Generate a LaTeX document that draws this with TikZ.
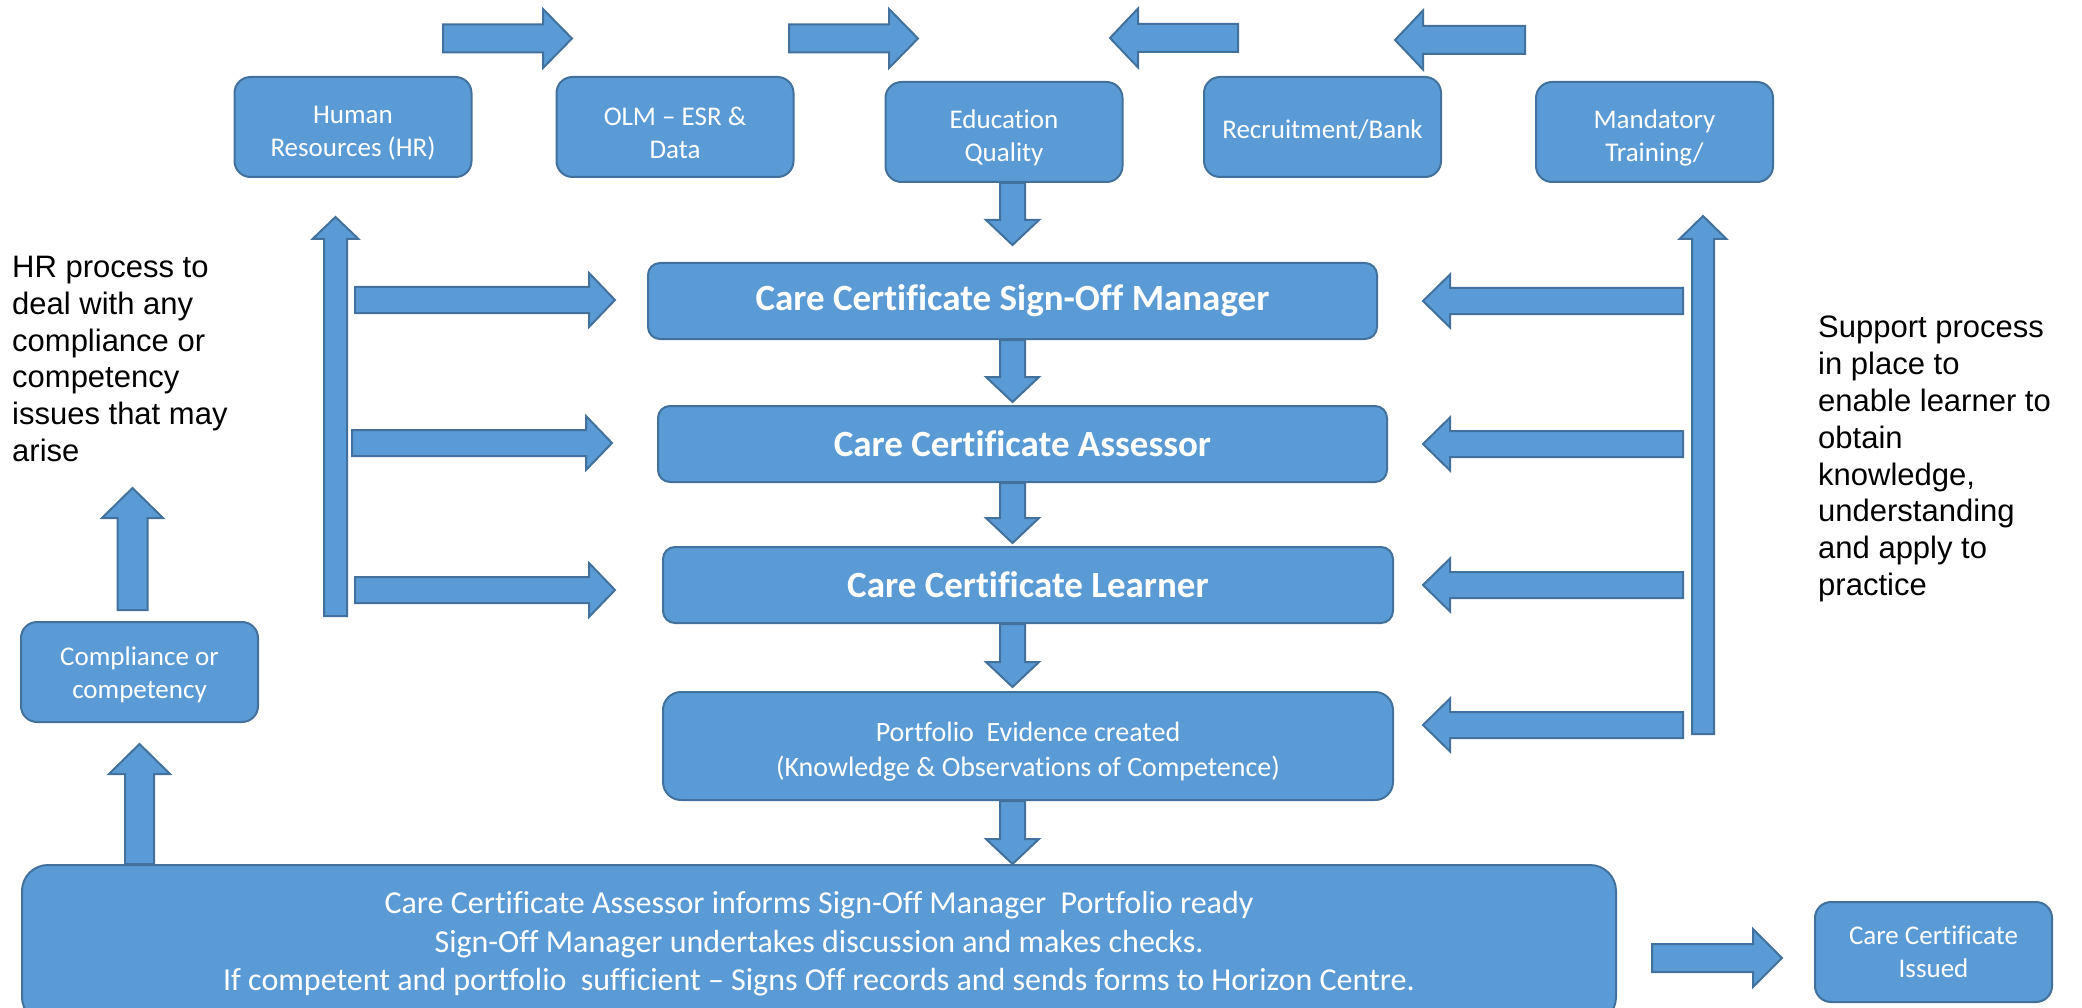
\documentclass[tikz,border=0pt]{standalone}
\usepackage{fontspec}
\setmainfont{Carlito}[Ligatures={TeX,NoCommon}]
\newfontfamily\arialfont{Liberation Sans}
\usetikzlibrary{calc}

\definecolor{boxblue}{HTML}{5B9BD5}
\definecolor{edgeblue}{HTML}{41719C}

\newcommand{\lift}[1][30pt]{\rule{0pt}{#1}}

\tikzset{
  base/.style={draw=edgeblue, fill=boxblue, line width=2pt, text=white, align=center, inner sep=0pt},
  box/.style={base, rounded corners=16pt, minimum width=237pt, minimum height=100pt, font=\fontsize{27}{33}\selectfont},
  bigbox/.style={base, rounded corners=12pt, minimum width=729pt, minimum height=76pt, font=\fontsize{37}{44}\selectfont\bfseries},
  note/.style={anchor=north west, inner sep=0pt, align=left, font=\arialfont\fontsize{31}{36.8}\selectfont},
  blk/.style n args={3}{draw=edgeblue, fill=boxblue, line width=2pt, line join=miter,
    to path={let \p1=(\tikztostart), \p2=(\tikztotarget),
      \n1={atan2(\y2-\y1,\x2-\x1)}, \n2={veclen(\x2-\x1,\y2-\y1)} in
      ($(\p1)+(\n1+90:#1)$) -- ($(\p1)+(\n1:\n2-#3)+(\n1+90:#1)$)
      -- ($(\p1)+(\n1:\n2-#3)+(\n1+90:#2)$) -- (\p2)
      -- ($(\p1)+(\n1:\n2-#3)+(\n1-90:#2)$) -- ($(\p1)+(\n1:\n2-#3)+(\n1-90:#1)$)
      -- ($(\p1)+(\n1-90:#1)$) -- cycle}}
}

\begin{document}
\begin{tikzpicture}[x=1pt, y=-1pt]
\useasboundingbox (0,0) rectangle (2082,1008);

\node[box] (hr) at (353,127) {\lift Human\\Resources (HR)};
\node[box] (olm) at (675,127) {\lift OLM – ESR \&\\Data};
\node[box] (edu) at (1004,132) {\lift Education\\Quality};
\node[box] (recruit) at (1322.5,127) {\lift[25pt]Recruitment/Bank};
\node[box] (mand) at (1654.5,132) {\lift Mandatory\\Training/};

\node[bigbox] (signoff) at (1012.5,301) {Care Certificate Sign-Off Manager};
\node[bigbox] (assessor) at (1022.5,444) {Care Certificate Assessor};
\node[bigbox, minimum width=730pt] (learner) at (1028,585) {Care Certificate Learner};
\node[base, rounded corners=18pt, minimum width=730pt, minimum height=108pt, font=\fontsize{28}{35}\selectfont] (portfolio) at (1028,746) {\lift Portfolio~ Evidence created\\(Knowledge \& Observations of Competence)};

\node[base, rounded corners=26pt, minimum width=1594pt, minimum height=158pt, font=\fontsize{32}{38.5}\selectfont] (bottom) at (819,944) {Care Certificate Assessor informs Sign-Off Manager~ Portfolio ready\\Sign-Off Manager undertakes discussion and makes checks.\\If competent and portfolio~ sufficient – Signs Off records and sends forms to Horizon Centre.};

\node[box] (comp) at (139.5,672) {\lift[25pt]Compliance or\\competency};
\node[box] (issued) at (1933.5,952) {Care Certificate\\Issued};

\node[note] (hrnote) at (12,256) {HR process to\\deal with any\\compliance or\\competency\\issues that may\\arise};
\node[note] (supnote) at (1818,316) {Support process\\in place to\\enable learner to\\obtain\\knowledge,\\understanding\\and apply to\\practice};

\coordinate (t1a) at (443,38.5); \coordinate (t1b) at (572,38.5);
\coordinate (t2a) at (789,38.5); \coordinate (t2b) at (918,38.5);
\coordinate (t3a) at (1238,38); \coordinate (t3b) at (1110,38);
\coordinate (t4a) at (1525,40); \coordinate (t4b) at (1395,40);
\draw[blk={14pt}{29.5pt}{29pt}] (t1a) to (t1b); \draw[blk={14pt}{29.5pt}{29pt}] (t2a) to (t2b);
\draw[blk={14pt}{29.5pt}{28pt}] (t3a) to (t3b); \draw[blk={14pt}{29.5pt}{28pt}] (t4a) to (t4b);

\draw[blk={12.5pt}{26.5pt}{25pt}] (edu.south -| signoff.north) to ($(signoff.north)+(0,-17)$);
\draw[blk={12.5pt}{26.5pt}{25pt}] (signoff.south) to ($(signoff.south |- assessor.north)+(0,-3)$);
\draw[blk={12.5pt}{26.5pt}{25pt}] (assessor.south -| signoff.south) to ($(learner.north -| signoff.south)+(0,-3)$);
\draw[blk={12.5pt}{26.5pt}{25pt}] (learner.south -| signoff.south) to ($(portfolio.north -| signoff.south)+(0,-4)$);
\draw[blk={12.5pt}{26.5pt}{25pt}] (portfolio.south -| signoff.south) to (bottom.north -| signoff.south);

\coordinate (lva) at (335.5,616); \coordinate (lvb) at (335.5,217);
\draw[blk={11.5pt}{23pt}{22pt}] (lva) to (lvb);
\coordinate (l1a) at (355,300); \coordinate (l1b) at (615,300);
\coordinate (l2a) at (352,443); \coordinate (l2b) at (612,443);
\coordinate (l3a) at (355,590); \coordinate (l3b) at (615,590);
\draw[blk={13pt}{27pt}{26pt}] (l1a) to (l1b); \draw[blk={13pt}{27pt}{26pt}] (l2a) to (l2b); \draw[blk={13pt}{27pt}{26pt}] (l3a) to (l3b);

\coordinate (rva) at (1703,734); \coordinate (rvb) at (1703,216);
\draw[blk={11pt}{23.5pt}{23pt}] (rva) to (rvb);
\coordinate (r1a) at (1683,301); \coordinate (r1b) at (1423,301);
\coordinate (r2a) at (1683,444); \coordinate (r2b) at (1423,444);
\coordinate (r3a) at (1683,585); \coordinate (r3b) at (1423,585);
\coordinate (r4a) at (1683,725); \coordinate (r4b) at (1423,725);
\draw[blk={13pt}{26.5pt}{27pt}] (r1a) to (r1b); \draw[blk={13pt}{26.5pt}{27pt}] (r2a) to (r2b);
\draw[blk={13pt}{26.5pt}{27pt}] (r3a) to (r3b); \draw[blk={13pt}{26.5pt}{27pt}] (r4a) to (r4b);

\coordinate (ca) at (132.5,610); \coordinate (cb) at (132.5,488);
\draw[blk={15pt}{30.5pt}{30pt}] (ca) to (cb);
\draw[blk={14.5pt}{30.5pt}{30pt}] (bottom.north -| comp.south) to ($(comp.south)+(0,21)$);

\coordinate (ia) at (1652,958); \coordinate (ib) at (1782,958);
\draw[blk={14pt}{29pt}{29pt}] (ia) to (ib);

\end{tikzpicture}
\end{document}
